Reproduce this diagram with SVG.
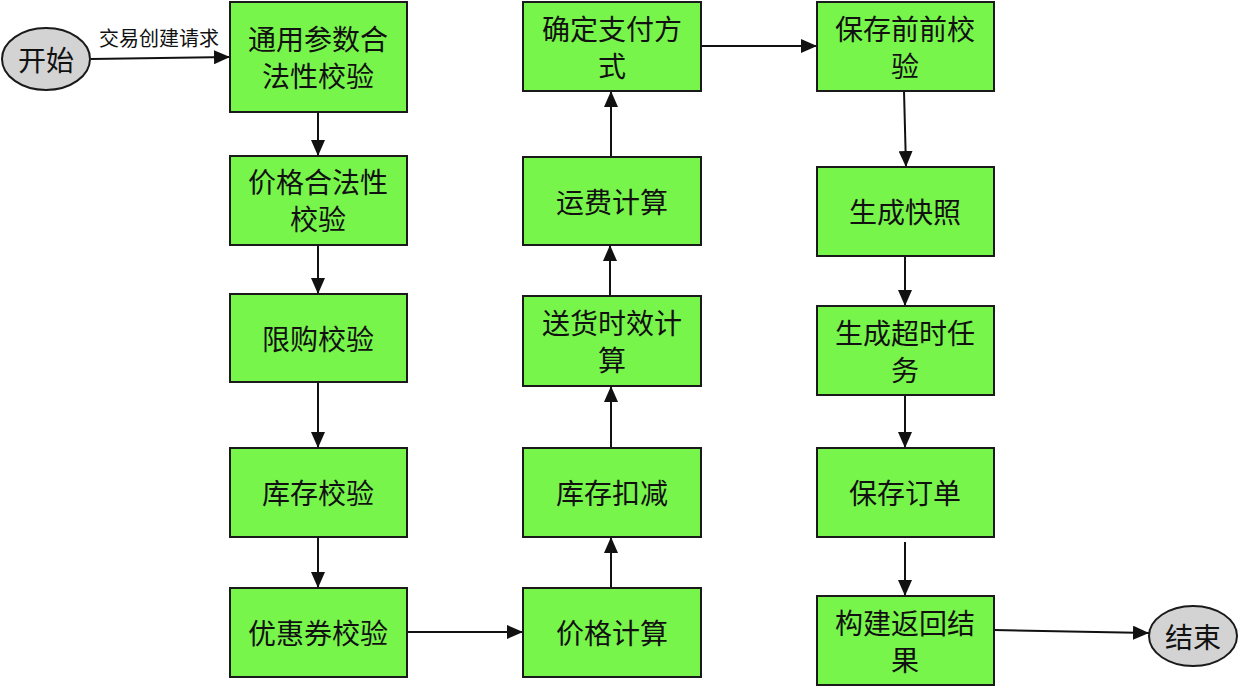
<svg xmlns="http://www.w3.org/2000/svg" width="1240" height="686" viewBox="0 0 1240 686">
<style>
.box{fill:#77F54B;stroke:#1a1a1a;stroke-width:2}
.term{fill:#D3D3D3;stroke:#1a1a1a;stroke-width:2}
.t{font-family:"Noto Sans CJK SC","Noto Sans",sans-serif;font-size:28px;fill:#111;text-anchor:middle;dominant-baseline:central}
.lbl{font-family:"Noto Sans CJK SC","Noto Sans",sans-serif;font-size:20px;fill:#111;text-anchor:middle;dominant-baseline:central}
.c{stroke:#111;stroke-width:2;fill:none;marker-end:url(#ah)}
</style>
<defs>
<marker id="ah" viewBox="0 0 16 14" refX="16" refY="7" markerWidth="16" markerHeight="14" markerUnits="userSpaceOnUse" orient="auto">
<path d="M0,0 L16,7 L0,14 Z" fill="#111"/>
</marker>
</defs>
<rect width="1240" height="686" fill="#fff"/>
<g id="connectors">
<path class="c" d="M91,59 L230,57"/>
<text class="lbl" x="159" y="37">交易创建请求</text>
<path class="c" d="M318,112 L318,156"/>
<path class="c" d="M318,245 L318,294"/>
<path class="c" d="M318,382 L318,448"/>
<path class="c" d="M318,537 L318,588"/>
<path class="c" d="M407,632 L523,632"/>
<path class="c" d="M611,588 L611,537"/>
<path class="c" d="M611,448 L611,386"/>
<path class="c" d="M610,296 L610,245"/>
<path class="c" d="M611,157 L611,91"/>
<path class="c" d="M701,46 L817,46"/>
<path class="c" d="M904,91 L906,167"/>
<path class="c" d="M905,256 L905,306"/>
<path class="c" d="M905,395 L905,448"/>
<path class="c" d="M905,542 L905,596"/>
<path class="c" d="M994,630 L1149,633"/>
</g>
<g id="start"><ellipse class="term" cx="46" cy="59" rx="44" ry="31"/><text class="t" x="46" y="59">开始</text></g>
<g id="n1"><rect class="box" x="230" y="2" width="177" height="110"/><text class="t" x="318" y="38">通用参数合<tspan x="318" dy="37">法性校验</tspan></text></g>
<g id="n2"><rect class="box" x="230" y="156" width="177" height="89"/><text class="t" x="318" y="181">价格合法性<tspan x="318" dy="37">校验</tspan></text></g>
<g id="n3"><rect class="box" x="230" y="294" width="177" height="88"/><text class="t" x="318" y="338">限购校验</text></g>
<g id="n4"><rect class="box" x="230" y="448" width="177" height="89"/><text class="t" x="318" y="492">库存校验</text></g>
<g id="n5"><rect class="box" x="230" y="588" width="177" height="89"/><text class="t" x="318" y="632">优惠券校验</text></g>
<g id="n6"><rect class="box" x="523" y="588" width="178" height="89"/><text class="t" x="612" y="632">价格计算</text></g>
<g id="n7"><rect class="box" x="523" y="448" width="178" height="89"/><text class="t" x="612" y="492">库存扣减</text></g>
<g id="n8"><rect class="box" x="523" y="296" width="178" height="90"/><text class="t" x="612" y="322">送货时效计<tspan x="612" dy="37">算</tspan></text></g>
<g id="n9"><rect class="box" x="523" y="157" width="178" height="88"/><text class="t" x="612" y="201">运费计算</text></g>
<g id="n10"><rect class="box" x="523" y="2" width="178" height="89"/><text class="t" x="612" y="28">确定支付方<tspan x="612" dy="37">式</tspan></text></g>
<g id="n11"><rect class="box" x="817" y="2" width="177" height="89"/><text class="t" x="905" y="28">保存前前校<tspan x="905" dy="37">验</tspan></text></g>
<g id="n12"><rect class="box" x="817" y="167" width="177" height="89"/><text class="t" x="905" y="211">生成快照</text></g>
<g id="n13"><rect class="box" x="817" y="306" width="177" height="89"/><text class="t" x="905" y="332">生成超时任<tspan x="905" dy="37">务</tspan></text></g>
<g id="n14"><rect class="box" x="817" y="448" width="177" height="89"/><text class="t" x="905" y="492">保存订单</text></g>
<g id="n15"><rect class="box" x="817" y="596" width="177" height="89"/><text class="t" x="905" y="622">构建返回结<tspan x="905" dy="37">果</tspan></text></g>
<g id="end"><ellipse class="term" cx="1193" cy="636" rx="44" ry="30"/><text class="t" x="1193" y="636">结束</text></g>
</svg>
